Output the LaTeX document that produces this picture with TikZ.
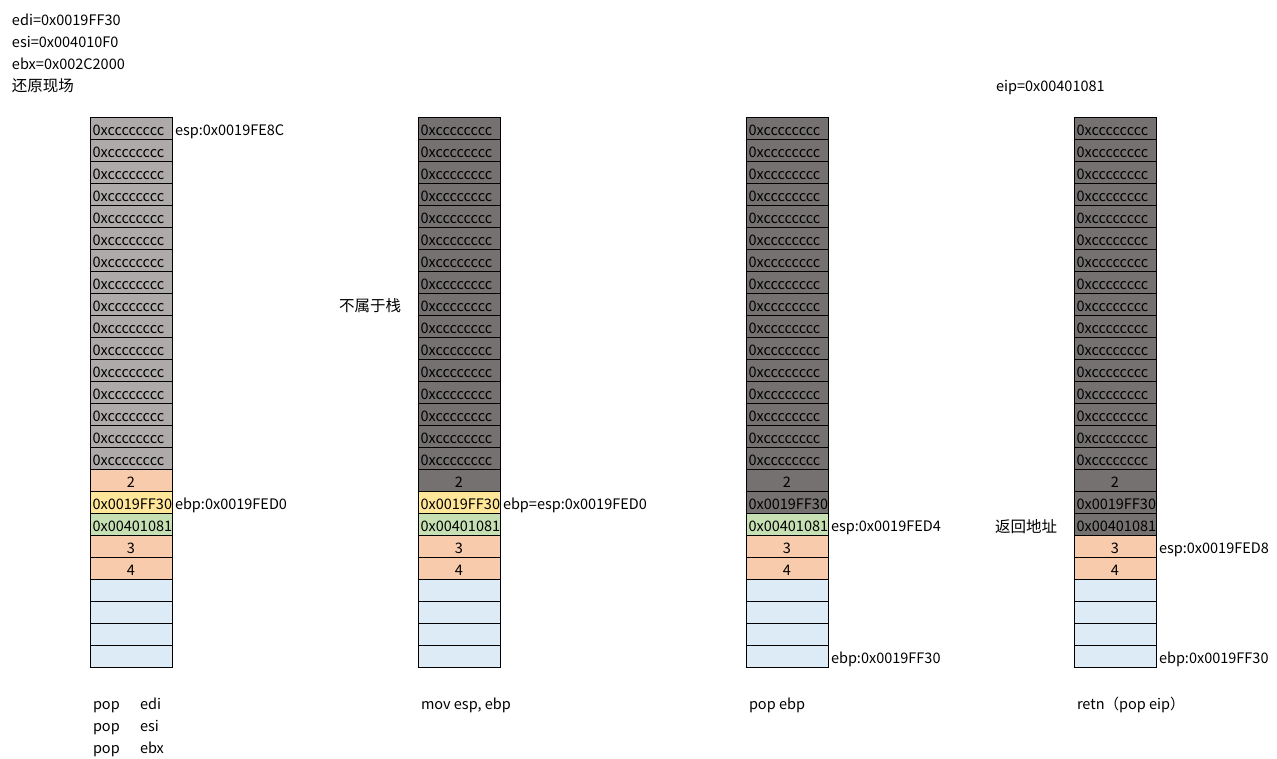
\documentclass[tikz,border=0pt]{standalone}
\usepackage{fontspec}
\setmainfont{Noto Sans CJK SC}
\definecolor{lgray}{HTML}{AEAAAA}
\definecolor{dgray}{HTML}{757171}
\definecolor{peach}{HTML}{F8CBAD}
\definecolor{pyellow}{HTML}{FFE699}
\definecolor{pgreen}{HTML}{C6E0B4}
\definecolor{pblue}{HTML}{DDEBF7}
\tikzset{
  cell/.style={draw=black, line width=0.8pt, minimum width=82pt, minimum height=22pt, inner sep=0pt, outer sep=0pt, anchor=north west},
  txt/.style={inner sep=0pt, outer sep=0pt, font=\fontsize{14.5}{16}\selectfont, text=black},
  cjk/.style={txt, font=\fontsize{15.5}{17}\selectfont},
}
\newcommand\stackcol[3]{%
  \foreach \r in {1,...,25}{%
    \ifnum\r<17 \gdef\fc{lgray}\gdef\tx{0xcccccccc}\gdef\al{l}\fi
    \ifnum\r=17 \gdef\fc{peach}\gdef\tx{2}\gdef\al{c}\fi
    \ifnum\r=18 \gdef\fc{pyellow}\gdef\tx{0x0019FF30}\gdef\al{l}\fi
    \ifnum\r=19 \gdef\fc{pgreen}\gdef\tx{0x00401081}\gdef\al{l}\fi
    \ifnum\r=20 \gdef\fc{peach}\gdef\tx{3}\gdef\al{c}\fi
    \ifnum\r=21 \gdef\fc{peach}\gdef\tx{4}\gdef\al{c}\fi
    \ifnum\r>21 \gdef\fc{pblue}\gdef\tx{}\gdef\al{c}\fi
    \ifnum\r>#3\relax\else\gdef\fc{dgray}\fi
    \node[cell, fill=\fc] (#1-\r) at (#2, {-117-22*(\r-1)}) {};
    \if l\al
      \node[txt, anchor=base west] (#1t-\r) at ([shift={(2.5,3.5)}]#1-\r.south west) {\tx};
    \else
      \node[txt, anchor=base] (#1t-\r) at ([shift={(0,3.5)}]#1-\r.south) {\tx};
    \fi
  }%
}
\begin{document}
\begin{tikzpicture}[x=1pt,y=1pt]
\useasboundingbox[fill=white] (0,0) rectangle (1277,-759);
\stackcol{a}{90}{0}
\stackcol{b}{418}{17}
\stackcol{c}{746}{18}
\stackcol{d}{1074}{19}
% top-left
\node[txt, anchor=base west] (edi) at (12,-26) {edi=0x0019FF30};
\node[txt, anchor=base west] (esi) at (12,-48) {esi=0x004010F0};
\node[txt, anchor=base west] (ebx) at (12,-70) {ebx=0x002C2000};
\node[cjk, anchor=base west] (hy) at (12,-92) {还原现场};
\node[txt, anchor=base west] (eip) at (996,-92) {eip=0x00401081};
% side labels
\node[txt, anchor=base west] (l1) at ([shift={(3,3.5)}]a-1.south east) {esp:0x0019FE8C};
\node[txt, anchor=base west] (l2) at ([shift={(3,3.5)}]a-18.south east) {ebp:0x0019FED0};
\node[txt, anchor=base west] (l3) at ([shift={(3,3.5)}]b-18.south east) {ebp=esp:0x0019FED0};
\node[txt, anchor=base west] (l4) at ([shift={(3,3.5)}]c-19.south east) {esp:0x0019FED4};
\node[txt, anchor=base west] (l5) at ([shift={(3,3.5)}]c-25.south east) {ebp:0x0019FF30};
\node[txt, anchor=base west] (l6) at ([shift={(3,3.5)}]d-20.south east) {esp:0x0019FED8};
\node[txt, anchor=base west] (l7) at ([shift={(3,3.5)}]d-25.south east) {ebp:0x0019FF30};
\node[cjk, anchor=base west] (nb) at (339,-312) {不属于栈};
\node[cjk, anchor=base west] (fh) at (995,-532) {返回地址};
% bottom
\node[txt, anchor=base west] (p1) at (93,-709) {pop};
\node[txt, anchor=base west] (p1r) at (140,-709) {edi};
\node[txt, anchor=base west] (p2) at (93,-731) {pop};
\node[txt, anchor=base west] (p2r) at (140,-731) {esi};
\node[txt, anchor=base west] (p3) at (93,-753) {pop};
\node[txt, anchor=base west] (p3r) at (140,-753) {ebx};
\node[txt, anchor=base west] (mv) at (421,-709) {mov esp, ebp};
\node[txt, anchor=base west] (pe) at (749,-709) {pop ebp};
\node[txt, anchor=base west] (rt) at (1077,-709) {retn（pop eip）};
\end{tikzpicture}
\end{document}
